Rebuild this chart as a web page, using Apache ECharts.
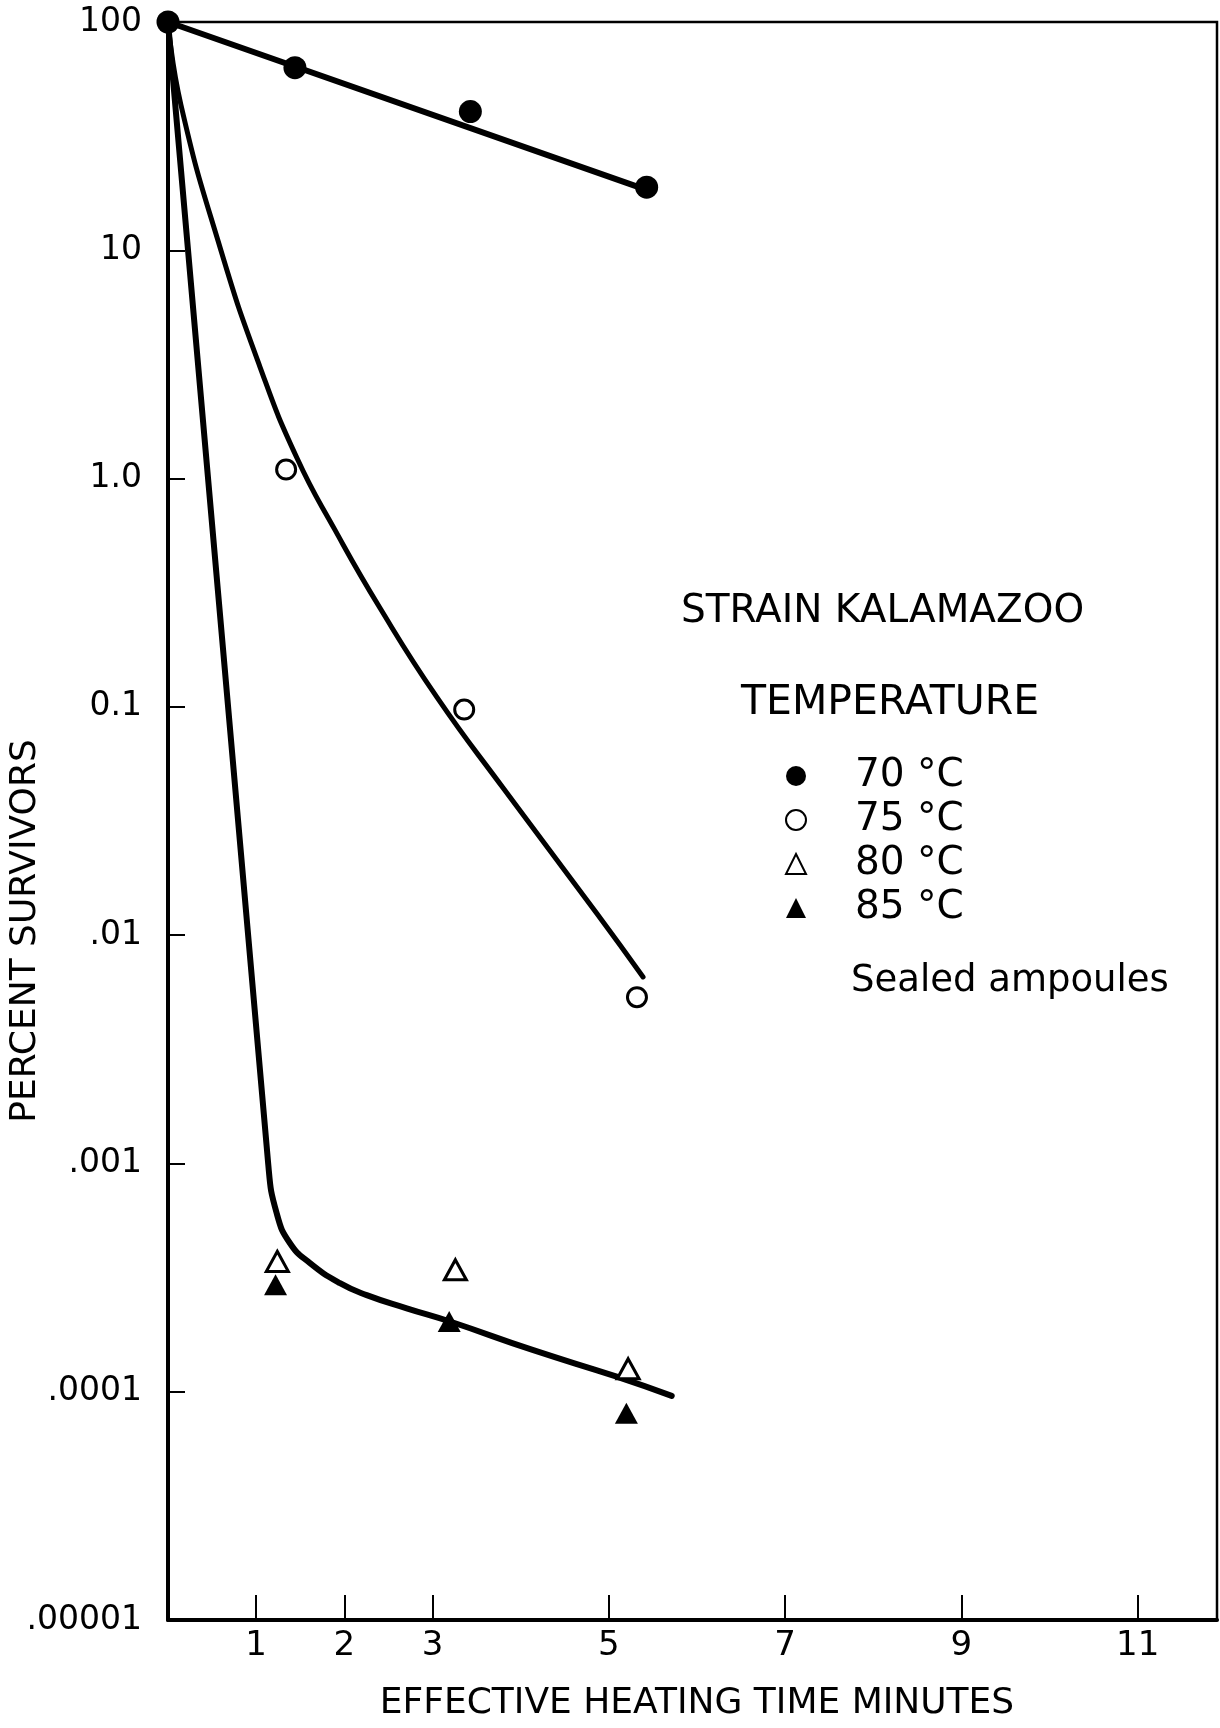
<!DOCTYPE html>
<html><head><meta charset="utf-8">
<script src="https://cdn.jsdelivr.net/npm/echarts@6/dist/echarts.min.js"></script>
<style>html,body{margin:0;padding:0;background:#fff}#c{width:1220px;height:1728px}</style>
</head><body><div id="c"></div>
<script>
// ---- data ----
const timeTicks = [1, 2, 3, 5, 7, 9, 11];
const yTickLabels = ['.00001', '.0001', '.001', '.01', '0.1', '1.0', '10', '100'];
const tempLabels = ['70 °C', '75 °C', '80 °C', '85 °C'];

const points70 = [[0, 100], [1.44, 63.1], [3.43, 40.5], [5.43, 18.9]];
const points75 = [[1.34, 1.096], [3.36, 0.0973], [5.32, 0.00535]];
const points80 = [[1.24, 0.000372], [3.26, 0.000342], [5.22, 0.000126]];
const points85 = [[1.22, 0.000294], [3.19, 0.000203], [5.20, 0.0000805]];

const fit70 = [[0, 100], [5.34, 18.9]];
const fit75 = [[0, 100], [0.147, 43.3], [0.60, 10.0], [1.044, 3.08], [1.463, 1.23],
  [1.894, 0.596], [2.405, 0.271], [3.052, 0.110], [3.80, 0.0442], [4.867, 0.0124],
  [5.389, 0.00656]];
const fit8085 = [[0, 100], [1.138, 0.000984], [1.233, 0.000605], [1.384, 0.000447],
  [1.611, 0.000366], [1.951, 0.000299], [2.254, 0.000265], [2.708, 0.000232],
  [3.199, 0.000203], [4.144, 0.000152], [5.09, 0.0001164], [5.714, 0.0000959]];

const FONT = 'DejaVu Sans';
const BLACK = '#000';

const chart = echarts.init(document.getElementById('c'), null, {renderer: 'canvas'});

const openStyle = {color: '#fff', borderColor: BLACK, borderWidth: 3, opacity: 1};
const solidStyle = {color: BLACK, opacity: 1};
const fitLine = (name, data, smooth, width) => ({
  name: name, type: 'line', data: data, smooth: smooth, symbol: 'none', silent: true,
  lineStyle: {color: BLACK, width: width, cap: 'round', join: 'round'},
  itemStyle: {color: BLACK}, z: 2, clip: false
});
const scatter = (name, data, symbol, size, style) => ({
  name: name, type: 'scatter', data: data, symbol: symbol, symbolSize: size,
  itemStyle: style, z: 5, clip: false, silent: true
});

chart.setOption({
  animation: false,
  backgroundColor: '#fff',
  grid: {left: 168, top: 22, width: 1049, height: 1598, show: true, borderColor: BLACK,
    borderWidth: 2.5, containLabel: false, outerBoundsMode: 'none'},
  xAxis: {
    type: 'value', min: 0, max: 11.9,
    name: 'EFFECTIVE HEATING TIME MINUTES', nameLocation: 'middle', nameGap: 66,
    nameMoveOverlap: false,
    nameTextStyle: {fontFamily: FONT, fontSize: 36, color: BLACK, padding: [0, 0, 0, 9]},
    axisLine: {show: true, onZero: false, lineStyle: {color: BLACK, width: 4}},
    axisTick: {show: true, inside: true, length: 25, customValues: timeTicks,
      lineStyle: {color: BLACK, width: 2}},
    axisLabel: {customValues: timeTicks, fontFamily: FONT, fontSize: 34, color: BLACK, margin: 9},
    splitLine: {show: false}
  },
  yAxis: {
    type: 'log', logBase: 10, min: 0.00001, max: 100,
    name: 'PERCENT SURVIVORS', nameLocation: 'middle', nameGap: 124,
    nameMoveOverlap: false,
    nameTextStyle: {fontFamily: FONT, fontSize: 36, color: BLACK, padding: [0, 220, 0, 0]},
    axisLine: {show: true, onZero: false, lineStyle: {color: BLACK, width: 4}},
    axisTick: {show: true, inside: true, length: 17, lineStyle: {color: BLACK, width: 2}},
    axisLabel: {
      formatter: v => yTickLabels[Math.round(Math.log10(v)) + 5],
      fontFamily: FONT, fontSize: 33, color: BLACK, margin: 26
    },
    splitLine: {show: false}, minorTick: {show: false}
  },
  legend: {
    data: tempLabels, orient: 'vertical', left: 780, top: 751,
    itemWidth: 20, itemHeight: 20, itemGap: 4, selectedMode: false,
    textStyle: {fontFamily: FONT, fontSize: 39, color: BLACK, lineHeight: 40,
      padding: [0, 0, 0, 44]}
  },
  graphic: [
    {type: 'text', x: 681, y: 612, silent: true,
      style: {text: 'STRAIN KALAMAZOO', fontFamily: FONT, fontSize: 39, fill: BLACK,
        align: 'left', verticalAlign: 'middle'}},
    {type: 'text', x: 741, y: 703, silent: true,
      style: {text: 'TEMPERATURE', fontFamily: FONT, fontSize: 41, fill: BLACK,
        align: 'left', verticalAlign: 'middle'}},
    {type: 'text', x: 851, y: 981, silent: true,
      style: {text: 'Sealed ampoules', fontFamily: FONT, fontSize: 37, fill: BLACK,
        align: 'left', verticalAlign: 'middle'}}
  ],
  series: [
    fitLine('fit 70', fit70, false, 6),
    fitLine('fit 75', fit75, 0.5, 5),
    fitLine('fit 80-85', fit8085, 0.5, 6),
    scatter(tempLabels[0], points70, 'circle', 23, solidStyle),
    scatter(tempLabels[1], points75, 'circle', 19, openStyle),
    scatter(tempLabels[2], points80, 'triangle', [22, 20], openStyle),
    scatter(tempLabels[3], points85, 'triangle', [23, 21], solidStyle)
  ]
});
</script>
</body></html>
